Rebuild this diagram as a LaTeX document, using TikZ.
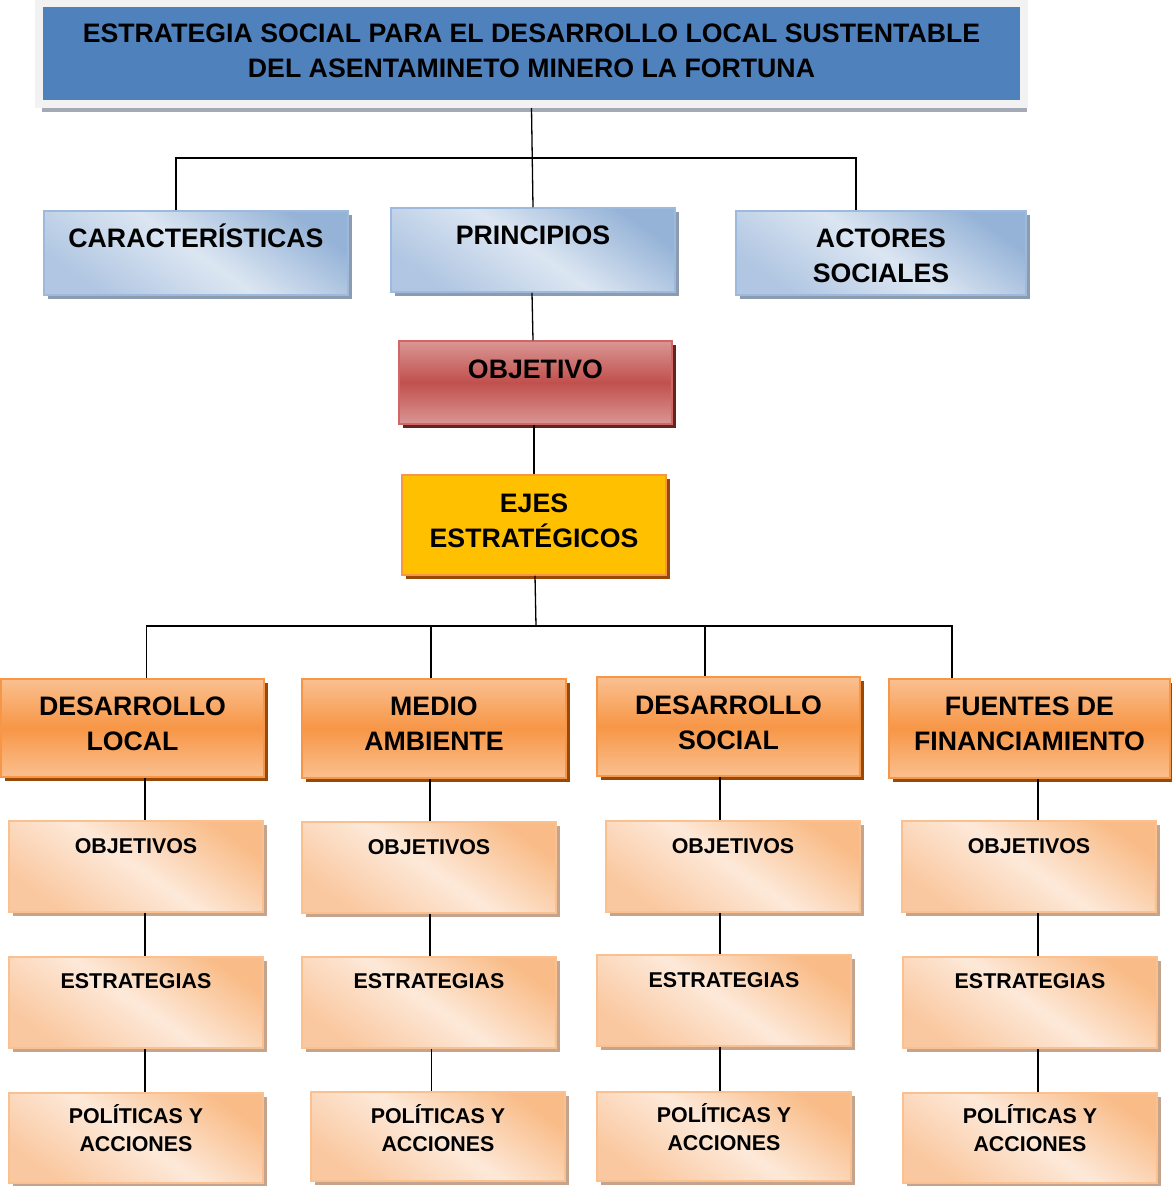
\documentclass[tikz,border=0pt]{standalone}
\usepackage{fontspec}
\setmainfont{Liberation Sans}
\usetikzlibrary{shadows}
\definecolor{titleblue}{HTML}{4F81BD}
\definecolor{titleframe}{HTML}{F2F2F2}
\definecolor{titleshadow}{HTML}{A3AAB6}
\definecolor{blueborder}{HTML}{9DB9DC}
\definecolor{bluedark}{HTML}{95B3D7}
\definecolor{bluelight}{HTML}{DCE6F2}
\definecolor{bluebot}{HTML}{B0C6E2}
\definecolor{blueshadow}{HTML}{8C9BB0}
\definecolor{redborder}{HTML}{D06764}
\definecolor{redlight}{HTML}{DA9694}
\definecolor{redmid}{HTML}{C0504D}
\definecolor{redshadow}{HTML}{632523}
\definecolor{yellowfill}{HTML}{FFC000}
\definecolor{orborder}{HTML}{F79646}
\definecolor{ormid}{HTML}{F79646}
\definecolor{orlight}{HTML}{FAC090}
\definecolor{orshadow}{HTML}{984807}
\definecolor{ptop}{HTML}{F9BC88}
\definecolor{pmid}{HTML}{FDE9D9}
\definecolor{pbot}{HTML}{FAC8A0}
\definecolor{pshadow}{HTML}{C4A48C}
\newcommand\mytwo[2]{\begin{tabular}[t]{@{}c@{}}#1\\#2\end{tabular}}
\begin{document}
\begin{tikzpicture}[x=1pt,y=-1pt,
  box/.style={inner sep=0pt, align=center, line width=1.5pt,
    font=\bfseries\fontsize{26.7}{35}\selectfont},
  smallbox/.style={box, font=\bfseries\fontsize{21.4}{28}\selectfont,
    minimum width=254pt, minimum height=91pt, draw=orlight,
    top color=ptop, bottom color=pbot, middle color=pmid, shading angle=-35,
    general shadow={fill=pshadow, shadow xshift=4pt, shadow yshift=-4pt}},
  titlebox/.style={box, fill=titleblue, draw=titleframe, line width=8pt,
    general shadow={fill=titleshadow, shadow xshift=3pt, shadow yshift=-8pt}},
  bluebox/.style={box, draw=blueborder,
    top color=bluedark, bottom color=bluebot, middle color=bluelight, shading angle=-35,
    general shadow={fill=blueshadow, shadow xshift=4pt, shadow yshift=-4pt}},
  redbox/.style={box, draw=redborder,
    top color=redlight, bottom color=redlight, middle color=redmid,
    general shadow={fill=redshadow, shadow xshift=4pt, shadow yshift=-4pt}},
  yellowbox/.style={box, draw=orborder, fill=yellowfill,
    general shadow={fill=orshadow, shadow xshift=4pt, shadow yshift=-4pt}},
  orangebox/.style={box, draw=orborder,
    top color=orlight, bottom color=orlight, middle color=ormid,
    general shadow={fill=orshadow, shadow xshift=4pt, shadow yshift=-4pt}},
  lift/.style={text height=19.1pt, text depth=#1},
  slift/.style={text height=15.3pt, text depth=#1},
  conn/.style={line width=1.3pt, black}
]
\useasboundingbox (0,0) rectangle (1172,1186);

% top
\node[titlebox, lift=41pt, minimum width=985pt, minimum height=101pt] (title) at (531.5,53.5)
  {\mytwo{ESTRATEGIA SOCIAL PARA EL DESARROLLO LOCAL SUSTENTABLE}{DEL ASENTAMINETO MINERO LA FORTUNA}};

\node[bluebox, lift=30pt, minimum width=304pt, minimum height=84pt] (car) at (196,253) {CARACTERÍSTICAS};
\node[bluebox, lift=30pt, minimum width=284pt, minimum height=84pt] (pri) at (533,250) {PRINCIPIOS};
\node[bluebox, lift=30pt, minimum width=290pt, minimum height=84pt] (act) at (881,253) {\mytwo{ACTORES}{SOCIALES}};

\node[redbox, lift=27pt, minimum width=273pt, minimum height=83pt] (obj) at (535.5,382.5) {OBJETIVO};
\node[yellowbox, lift=45pt, minimum width=264pt, minimum height=100pt] (ejes) at (534,525) {\mytwo{EJES}{ESTRATÉGICOS}};

% axes
\node[orangebox, lift=44pt, minimum width=263pt, minimum height=98pt] (dl) at (132.5,728) {\mytwo{DESARROLLO}{LOCAL}};
\node[orangebox, lift=45pt, minimum width=264pt, minimum height=99pt] (ma) at (434,728.5) {\mytwo{MEDIO}{AMBIENTE}};
\node[orangebox, lift=43pt, minimum width=263pt, minimum height=99pt] (ds) at (728.5,726.5) {\mytwo{DESARROLLO}{SOCIAL}};
\node[orangebox, lift=45pt, minimum width=281pt, minimum height=99pt] (ff) at (1029.5,728.5) {\mytwo{FUENTES DE}{FINANCIAMIENTO}};

% column 1
\node[smallbox, slift=41pt] (o1) at (136,866.5) {OBJETIVOS};
\node[smallbox, slift=43pt] (e1) at (136,1002.5) {ESTRATEGIAS};
\node[smallbox, slift=44pt, minimum height=90pt] (p1) at (136,1138) {\mytwo{POLÍTICAS Y}{ACCIONES}};
% column 2
\node[smallbox, slift=41pt] (o2) at (429,867.5) {OBJETIVOS};
\node[smallbox, slift=43pt] (e2) at (429,1002.5) {ESTRATEGIAS};
\node[smallbox, slift=42pt, minimum height=89pt] (p2) at (438,1136.5) {\mytwo{POLÍTICAS Y}{ACCIONES}};
% column 3
\node[smallbox, slift=41pt] (o3) at (733,866.5) {OBJETIVOS};
\node[smallbox, slift=41pt] (e3) at (724,1000.5) {ESTRATEGIAS};
\node[smallbox, slift=43pt, minimum height=89pt] (p3) at (724,1136.5) {\mytwo{POLÍTICAS Y}{ACCIONES}};
% column 4
\node[smallbox, slift=41pt] (o4) at (1029,866.5) {OBJETIVOS};
\node[smallbox, slift=43pt] (e4) at (1030,1002.5) {ESTRATEGIAS};
\node[smallbox, slift=44pt, minimum height=90pt] (p4) at (1030,1138) {\mytwo{POLÍTICAS Y}{ACCIONES}};

% connectors top
\coordinate (bus1) at (532.5,158);
\draw[conn] (title.south) -- (pri.north);
\draw[conn] ([xshift=-20pt]car.north) |- (bus1) -| ([xshift=-25pt]act.north);
\draw[conn] ([xshift=-1pt]pri.south) -- ([xshift=-2.5pt]obj.north);
\draw[conn] ([xshift=-1.5pt]obj.south) -- (ejes.north);

% connectors to axes
\coordinate (bus2) at (536,626);
\draw[conn] ([xshift=1pt]ejes.south) -- (bus2);
\draw[conn] ([xshift=14pt]dl.north) |- (bus2) -| ([xshift=-77.5pt]ff.north);
\draw[conn] ([xshift=-3pt]ma.north) -- ([xshift=-3pt]ma.north |- bus2);
\draw[conn] ([xshift=-23.5pt]ds.north) -- ([xshift=-23.5pt]ds.north |- bus2);

% column connectors
\draw[conn] ([xshift=12.5pt]dl.south) -- ([xshift=9pt]o1.north);
\draw[conn] ([xshift=9pt]o1.south) -- ([xshift=9pt]e1.north);
\draw[conn] ([xshift=9pt]e1.south) -- ([xshift=9pt]p1.north);

\draw[conn] ([xshift=-4pt]ma.south) -- ([xshift=1pt]o2.north);
\draw[conn] ([xshift=1pt]o2.south) -- ([xshift=1pt]e2.north);
\draw[conn] ([xshift=2.5pt]e2.south) -- ([xshift=-6.5pt]p2.north);

\draw[conn] ([xshift=-8.5pt]ds.south) -- ([xshift=-13pt]o3.north);
\draw[conn] ([xshift=-13pt]o3.south) -- ([xshift=-4pt]e3.north);
\draw[conn] ([xshift=-4pt]e3.south) -- ([xshift=-4pt]p3.north);

\draw[conn] ([xshift=8.5pt]ff.south) -- ([xshift=9pt]o4.north);
\draw[conn] ([xshift=9pt]o4.south) -- ([xshift=8pt]e4.north);
\draw[conn] ([xshift=8pt]e4.south) -- ([xshift=8pt]p4.north);
\end{tikzpicture}
\end{document}
